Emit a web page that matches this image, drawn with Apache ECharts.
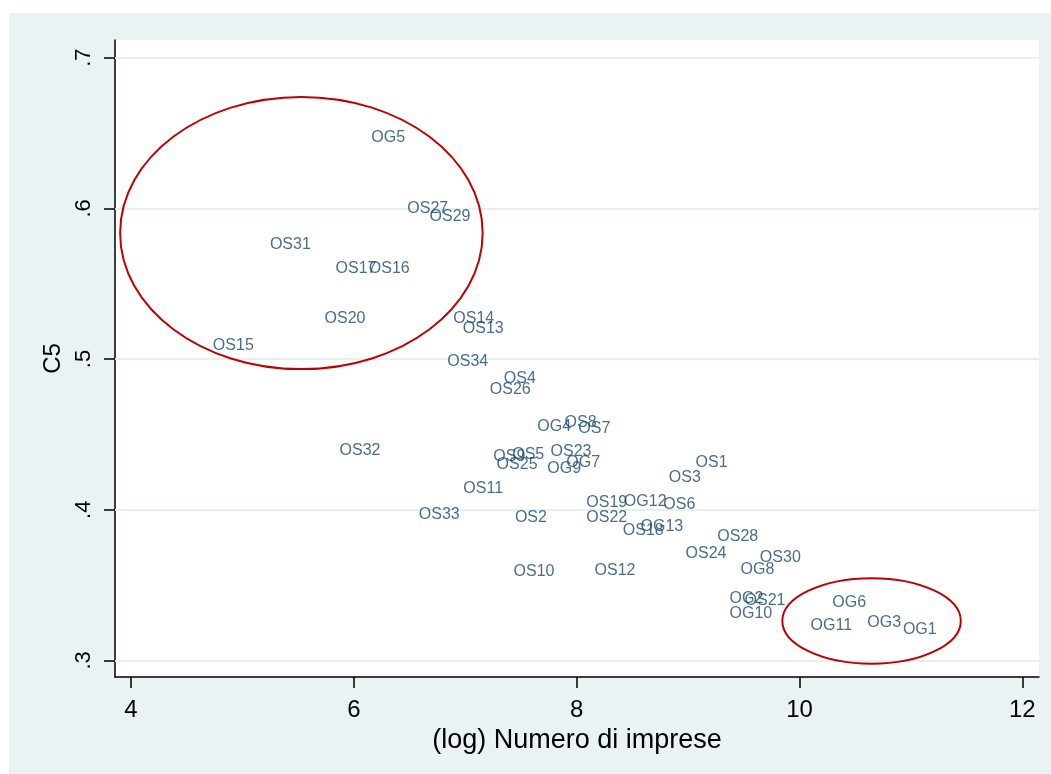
<!DOCTYPE html>
<html>
<head>
<meta charset="utf-8">
<script src="https://cdn.jsdelivr.net/npm/echarts@6/dist/echarts.min.js"></script>
<style>
    body { margin: 0; background: #fff; }
    #grafico { position: absolute; left: 9px; top: 13px; width: 1042px; height: 761px; }
</style>
</head>
<body>
<div id="grafico"></div>
<script>
// etichette dei settori (OS / OG)
const etichette = ['OG5', 'OS27', 'OS29', 'OS31', 'OS17', 'OS16', 'OS20', 'OS15', 'OS14', 'OS13',
    'OS34', 'OS4', 'OS26', 'OG4', 'OS8', 'OS7', 'OS32', 'OS9', 'OS5', 'OS25',
    'OS23', 'OG7', 'OG9', 'OS11', 'OS33', 'OS2', 'OS19', 'OG12', 'OS6', 'OS22',
    'OG13', 'OS18', 'OS1', 'OS3', 'OS28', 'OS24', 'OS30', 'OG8', 'OS12', 'OS10',
    'OG2', 'OS21', 'OG10', 'OG6', 'OG11', 'OG3', 'OG1'];

// (log) numero di imprese
const logImprese = [6.125, 6.448, 6.648, 5.215, 5.804, 6.103, 5.706, 4.703, 6.861, 6.947,
    6.807, 7.315, 7.189, 7.615, 7.86, 7.983, 5.84, 7.22, 7.39, 7.25,
    7.734, 7.875, 7.705, 6.951, 6.552, 7.414, 8.055, 8.392, 8.746, 8.055,
    8.542, 8.383, 9.036, 8.796, 9.231, 8.946, 9.613, 9.44, 8.129, 7.402,
    9.341, 9.476, 9.341, 10.263, 10.068, 10.577, 10.897];

// indice C5
const c5 = [0.647, 0.600, 0.5945, 0.576, 0.560, 0.560, 0.527, 0.509, 0.527, 0.5205,
    0.498, 0.487, 0.480, 0.455, 0.458, 0.454, 0.439, 0.435, 0.4365, 0.430,
    0.4386, 0.4316, 0.427, 0.4137, 0.397, 0.3945, 0.405, 0.4051, 0.4037, 0.395,
    0.389, 0.386, 0.431, 0.4214, 0.3823, 0.3706, 0.368, 0.3606, 0.3597, 0.3588,
    0.3407, 0.3398, 0.3314, 0.3387, 0.3232, 0.3248, 0.3204];

const tickX = [4, 6, 8, 10, 12];
const tickY = [0.3, 0.4, 0.5, 0.6, 0.7];

// ellissi: centro x, centro y, raggio x, raggio y (unita dei dati)
const ellissiCx = [5.529, 10.647];
const ellissiCy = [0.5836, 0.3262];
const ellissiRx = [1.627, 0.801];
const ellissiRy = [0.0903, 0.0284];

const font = 'Liberation Sans, Arial, sans-serif';

let punti = etichette.map((nome, i) => ({ name: nome, value: [logImprese[i], c5[i]] }));
let ellissi = ellissiCx.map((cx, i) => [cx, ellissiCy[i], ellissiRx[i], ellissiRy[i]]);

let grafico = echarts.init(document.querySelector('#grafico'));

let option = {
    backgroundColor: '#EAF2F3',
    animation: false,
    grid: {
        left: 106, top: 27, right: 12, bottom: 97,
        show: true, backgroundColor: '#fff', borderWidth: 0
    },
    xAxis: {
        type: 'value',
        min: 3.856,
        max: 12.15,
        name: '(log) Numero di imprese',
        nameLocation: 'middle',
        nameGap: 48,
        nameTextStyle: { fontFamily: font, fontSize: 27, color: '#000' },
        axisLine: { show: true, onZero: false, lineStyle: { color: '#000', width: 1.5 } },
        axisTick: { show: true, length: 11, customValues: tickX, lineStyle: { color: '#000', width: 1.5 } },
        axisLabel: {
            customValues: tickX, margin: 21,
            fontFamily: font, fontSize: 24, color: '#000'
        },
        splitLine: { show: false }
    },
    yAxis: {
        type: 'value',
        min: 0.289,
        max: 0.7117,
        name: 'C5',
        nameLocation: 'middle',
        nameGap: 49,
        nameRotate: 90,
        nameTextStyle: { fontFamily: font, fontSize: 24, color: '#000' },
        axisLine: { show: true, onZero: false, lineStyle: { color: '#000', width: 1.5 } },
        axisTick: { show: true, length: 11, customValues: tickY, lineStyle: { color: '#000', width: 1.5 } },
        axisLabel: {
            customValues: tickY, margin: 20, rotate: 90,
            fontFamily: font, fontSize: 22, color: '#000',
            formatter: v => v.toFixed(1).replace('0.', '.')
        },
        splitLine: { show: false }
    },
    series: [
        {
            // linee della griglia orizzontale
            type: 'scatter',
            data: [],
            silent: true,
            z: 1,
            markLine: {
                symbol: 'none',
                silent: true,
                label: { show: false },
                lineStyle: { color: '#E6EFF1', width: 2, type: 'solid' },
                data: tickY.map(v => ({ yAxis: v }))
            }
        },
        {
            type: 'scatter',
            data: punti,
            symbolSize: 1,
            z: 5,
            itemStyle: { color: 'rgba(0,0,0,0)' },
            label: {
                show: true,
                position: 'right',
                distance: 3,
                formatter: p => p.name,
                fontFamily: font,
                fontSize: 16,
                color: '#1A476F'
            },
            labelLayout: { hideOverlap: false }
        },
        {
            type: 'custom',
            data: ellissi,
            silent: true,
            z: 10,
            renderItem: (params, api) => {
                let c = api.coord([api.value(0), api.value(1)]);
                let s = api.size([api.value(2), api.value(3)]);
                return {
                    type: 'ellipse',
                    shape: { cx: c[0], cy: c[1], rx: s[0], ry: s[1] },
                    style: { fill: 'none', stroke: '#C00000', lineWidth: 2 }
                };
            }
        }
    ]
};

grafico.setOption(option);
</script>
</body>
</html>
